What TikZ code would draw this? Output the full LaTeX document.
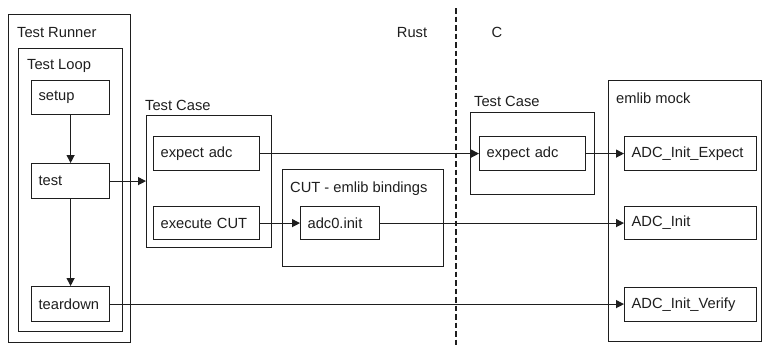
\documentclass[tikz,border=0pt]{standalone}
\usepackage{fontspec}
\setmainfont{Liberation Sans}
\usetikzlibrary{arrows.meta}
\definecolor{ink}{RGB}{30,30,30}
\begin{document}
\begin{tikzpicture}[x=1pt,y=-1pt,
  font=\fontsize{14.7}{17}\selectfont,
  every node/.style={text=ink},
  frame/.style={draw=ink, line width=1.2pt, anchor=north west, inner sep=0pt},
  blk/.style={draw=ink, line width=1.2pt, anchor=north west, inner xsep=7pt,
              inner ysep=0pt, align=left, text width=#1},
  lbl/.style={anchor=base west, inner sep=0pt},
  link/.style={draw=ink, line width=1.2pt, -{Triangle[length=8pt,width=8pt]}},
  line/.style={draw=ink, line width=1.2pt}]
\useasboundingbox (0,0) rectangle (763,348);

% language boundary
\draw[ink, line width=1.5pt, dash pattern=on 5.5pt off 3pt] (456,8) -- (456,348);
\node[anchor=base, inner sep=0pt] (rust) at (412,37) {Rust};
\node[anchor=base, inner sep=0pt] (clang) at (497,37) {C};

% test runner and its loop
\node[frame, minimum width=122pt, minimum height=328pt] (runner) at (8,14) {};
\node[lbl] (runnerlbl) at (17,37) {Test Runner};
\node[frame, minimum width=104pt, minimum height=283pt] (loop) at (18,48) {};
\node[lbl] (looplbl) at (27,69) {Test Loop};
\node[blk=64pt, minimum height=34pt] (setup) at (31,80) {setup};
\node[blk=64pt, minimum height=35pt] (test) at (31,163) {test};
\node[blk=64pt, minimum height=35pt] (teardown) at (31,286) {teardown};

% Rust test case
\node[frame, minimum width=125pt, minimum height=132pt] (caseL) at (146,115) {};
\node[lbl] (caseLlbl) at (145,110) {Test Case};
\node[blk=92pt, minimum height=34pt] (expL) at (153,136) {expect adc};
\node[blk=92pt, minimum height=33pt] (exec) at (153,206) {execute CUT};

% bindings
\node[frame, minimum width=161pt, minimum height=97pt] (cut) at (282,169) {};
\node[lbl] (cutlbl) at (290,192) {CUT - emlib bindings};
\node[blk=65pt, minimum height=33pt] (adc) at (300,206) {adc0.init};

% C test case
\node[frame, minimum width=124pt, minimum height=82pt] (caseR) at (470,112) {};
\node[lbl] (caseRlbl) at (474,106) {Test Case};
\node[blk=92pt, minimum height=34pt] (expR) at (479,136) {expect adc};

% mock
\node[frame, minimum width=153pt, minimum height=261pt] (mock) at (608,80) {};
\node[lbl] (mocklbl) at (616,103) {emlib mock};
\node[blk=118pt, minimum height=34pt] (mexp) at (624,136) {ADC\_Init\_Expect};
\node[blk=118pt, minimum height=33pt] (minit) at (624,206) {ADC\_Init};
\node[blk=118pt, minimum height=34pt] (mver) at (624,287) {ADC\_Init\_Verify};

% connectors
\draw[link] (setup.south) -- (test.north);
\draw[link] (test.south) -- (teardown.north);
\draw[link] (test.east) -- (caseL.west |- test.east);
\draw[link] (expL.east) -- (expR.west);
\draw[link] (exec.east) -- (adc.west);
\draw[link] (expR.east) -- (mexp.west);
\draw[link] (adc.east) -- (minit.west);
\draw[link] (teardown.east) -- (mver.west |- teardown.east);
\end{tikzpicture}
\end{document}
